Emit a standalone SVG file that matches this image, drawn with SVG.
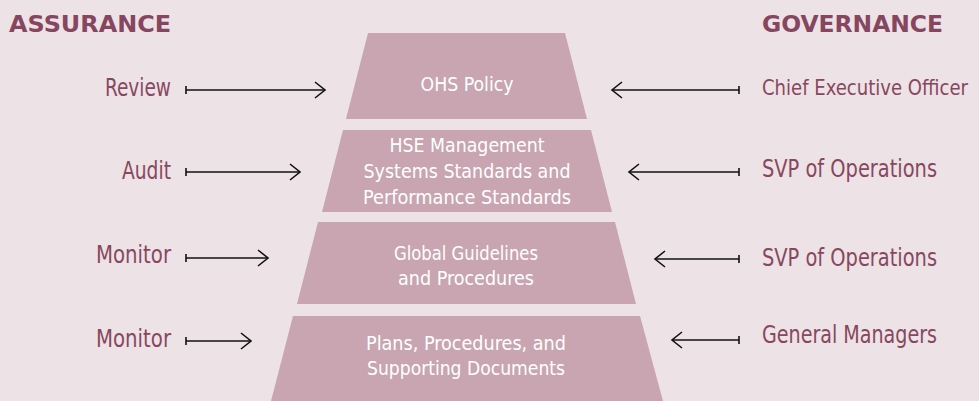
<svg xmlns="http://www.w3.org/2000/svg" width="979" height="401" viewBox="0 0 979 401">
<defs>
<marker id="head" markerWidth="14" markerHeight="20" refX="12" refY="10" orient="auto" markerUnits="userSpaceOnUse">
<path d="M2,2 L12,10 L2,18" fill="none" stroke="#111" stroke-width="1.6"/>
</marker>
<marker id="tail" markerWidth="4" markerHeight="10" refX="1" refY="5" orient="auto" markerUnits="userSpaceOnUse">
<path d="M1,1 L1,9" fill="none" stroke="#111" stroke-width="1.6"/>
</marker>
</defs>
<style>
.bg{fill:#ede2e6}
.tier{fill:#c8a5b0}
.tt{font-family:"DejaVu Sans Condensed","DejaVu Sans",sans-serif;font-stretch:condensed;font-size:20px;fill:#ffffff;text-anchor:middle}
.lab{font-family:"DejaVu Sans Condensed","DejaVu Sans",sans-serif;font-stretch:condensed;font-size:24px;fill:#87485f}
.head{font-family:"DejaVu Sans",sans-serif;font-weight:bold;font-size:23px;fill:#864660}
.arr{stroke:#111;stroke-width:1.6;fill:none;marker-start:url(#tail);marker-end:url(#head)}
</style>
<rect class="bg" x="0" y="0" width="979" height="401"/>
<text class="head" x="9" y="32" textLength="162" lengthAdjust="spacingAndGlyphs">ASSURANCE</text>
<text class="head" x="762" y="32" textLength="181" lengthAdjust="spacingAndGlyphs">GOVERNANCE</text>

<g id="tier1">
<polygon class="tier" points="368,33 565,33 587,119 346,119"/>
<text class="tt" x="467" y="91" textLength="93" lengthAdjust="spacingAndGlyphs">OHS Policy</text>
</g>
<g id="tier2">
<polygon class="tier" points="343,130 591,130 612,212 322,212"/>
<text class="tt" x="467" y="152" textLength="155" lengthAdjust="spacingAndGlyphs">HSE Management</text>
<text class="tt" x="467" y="178" textLength="207" lengthAdjust="spacingAndGlyphs">Systems Standards and</text>
<text class="tt" x="467" y="204" textLength="208" lengthAdjust="spacingAndGlyphs">Performance Standards</text>
</g>
<g id="tier3">
<polygon class="tier" points="318,222 615,222 636,304 297,304"/>
<text class="tt" x="466" y="260" textLength="144" lengthAdjust="spacingAndGlyphs">Global Guidelines</text>
<text class="tt" x="466" y="285" textLength="136" lengthAdjust="spacingAndGlyphs">and Procedures</text>
</g>
<g id="tier4">
<polygon class="tier" points="293,316 640,316 663,401 271,401"/>
<text class="tt" x="466" y="350" textLength="200" lengthAdjust="spacingAndGlyphs">Plans, Procedures, and</text>
<text class="tt" x="466" y="375" textLength="198" lengthAdjust="spacingAndGlyphs">Supporting Documents</text>
</g>

<g id="assurance-labels">
<text class="lab" x="171" y="96" text-anchor="end" textLength="66" lengthAdjust="spacingAndGlyphs">Review</text>
<text class="lab" x="171" y="179" text-anchor="end" textLength="49" lengthAdjust="spacingAndGlyphs">Audit</text>
<text class="lab" x="171" y="263" text-anchor="end" textLength="75" lengthAdjust="spacingAndGlyphs">Monitor</text>
<text class="lab" x="171" y="347" text-anchor="end" textLength="75" lengthAdjust="spacingAndGlyphs">Monitor</text>
</g>
<g id="governance-labels">
<text class="lab" x="762" y="95" font-size="21" style="font-size:21px" textLength="206" lengthAdjust="spacingAndGlyphs">Chief Executive Officer</text>
<text class="lab" x="762" y="177" textLength="175" lengthAdjust="spacingAndGlyphs">SVP of Operations</text>
<text class="lab" x="762" y="266" textLength="175" lengthAdjust="spacingAndGlyphs">SVP of Operations</text>
<text class="lab" x="762" y="343" textLength="175" lengthAdjust="spacingAndGlyphs">General Managers</text>
</g>

<g id="connectors">
<line class="arr" x1="186" y1="90" x2="325" y2="90"/>
<line class="arr" x1="186" y1="172" x2="300" y2="172"/>
<line class="arr" x1="186" y1="258" x2="268" y2="258"/>
<line class="arr" x1="186" y1="341" x2="251" y2="341"/>
<line class="arr" x1="739" y1="90" x2="612" y2="90"/>
<line class="arr" x1="739" y1="172" x2="629" y2="172"/>
<line class="arr" x1="739" y1="259" x2="655" y2="259"/>
<line class="arr" x1="739" y1="340" x2="672" y2="340"/>
</g>
</svg>
